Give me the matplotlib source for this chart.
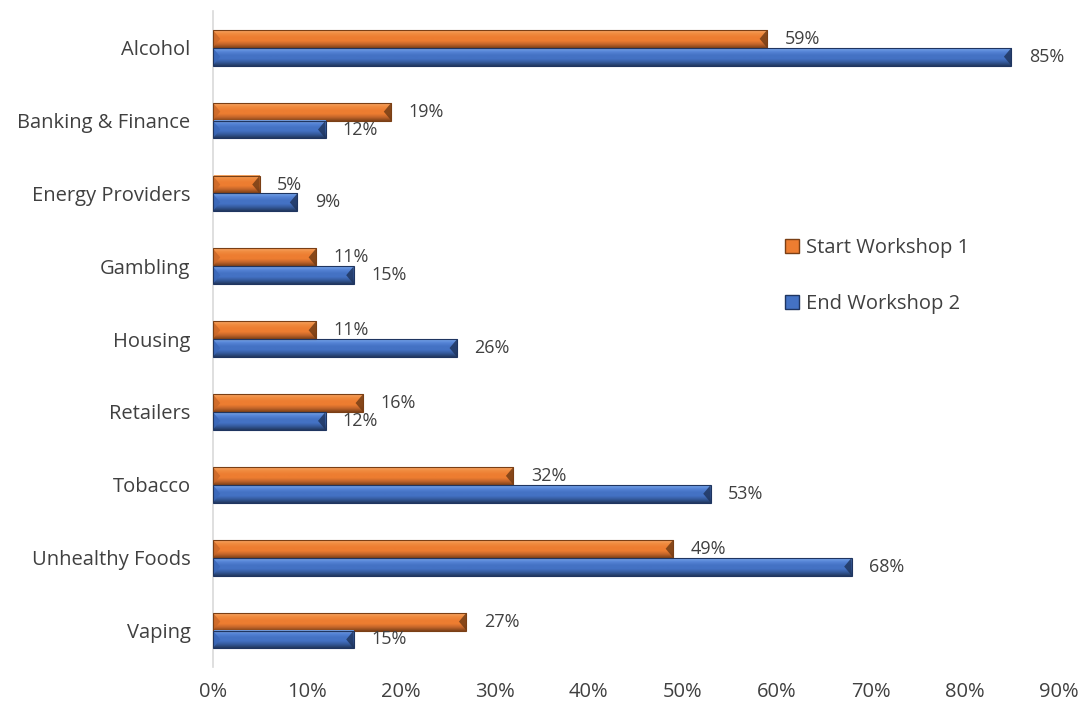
import numpy as np
import matplotlib.pyplot as plt
from matplotlib.colors import LinearSegmentedColormap
from matplotlib.patches import Patch, Polygon

categories = ['Alcohol', 'Banking & Finance', 'Energy Providers', 'Gambling',
              'Housing', 'Retailers', 'Tobacco', 'Unhealthy Foods', 'Vaping']
start_ws1 = [0.59, 0.19, 0.05, 0.11, 0.11, 0.16, 0.32, 0.49, 0.27]
end_ws2 = [0.85, 0.12, 0.09, 0.15, 0.26, 0.12, 0.53, 0.68, 0.15]

plt.rcParams['font.family'] = ['Open Sans', 'DejaVu Sans']
text_col = '#404040'

# bevel look: light top edge, flat middle, dark bottom edge
orange_cmap = LinearSegmentedColormap.from_list(
    'orange', ['#F6A765', '#F08A3E', '#ED7D31', '#ED7D31', '#C0642A', '#7E4118'])
blue_cmap = LinearSegmentedColormap.from_list(
    'blue', ['#7AA6EA', '#5584D6', '#4472C4', '#4472C4', '#34599A', '#22385F'])
grad = np.linspace(0, 1, 64).reshape(-1, 1)

fig = plt.figure(figsize=(10.8, 7.08), dpi=100)
ax = fig.add_axes([0.197, 0.058, 0.783, 0.926])

h = 0.245
cap = 0.008  # width of the bevel cap at each end, in data units
y = np.arange(len(categories))

def bevel_bars(values, offset, cmap, edge, cap_dark, cap_light):
    for yi, v in zip(y, values):
        top = yi + offset - h / 2
        ax.imshow(grad, extent=[0, v, top + h, top], aspect='auto', cmap=cmap,
                  interpolation='bilinear', zorder=2)
        # end caps of the bevel
        ax.add_patch(Polygon([(v, top), (v, top + h), (v - cap, top + h / 2)],
                             closed=True, facecolor=cap_dark, edgecolor='none',
                             alpha=0.8, zorder=2.5))
        ax.add_patch(Polygon([(0, top), (0, top + h), (cap, top + h / 2)],
                             closed=True, facecolor=cap_light, edgecolor='none',
                             alpha=0.8, zorder=2.5))
    ax.barh(y + offset, values, height=h, facecolor='none', edgecolor=edge,
            linewidth=0.8, zorder=3)
    for yi, v in zip(y, values):
        ax.annotate(f'{round(v * 100)}%', (v, yi + offset), xytext=(12.5, 0),
                    textcoords='offset points', va='center', ha='left',
                    fontsize=13, color=text_col)

bevel_bars(start_ws1, -h / 2, orange_cmap, '#7A3F15', '#6E3A14', '#C9682A')
bevel_bars(end_ws2, h / 2, blue_cmap, '#1F3560', '#1E335A', '#3A67B8')

handles = [Patch(facecolor='#ED7D31', edgecolor='#7A3F15', label='Start Workshop 1'),
           Patch(facecolor='#4472C4', edgecolor='#1F3560', label='End Workshop 2')]
leg = ax.legend(handles=handles, loc='center left', bbox_to_anchor=(0.71, 0.61),
                bbox_transform=fig.transFigure, frameon=False, fontsize=14.5,
                handlelength=0.7, handleheight=0.7, handletextpad=0.35,
                labelspacing=1.75)
for t in leg.get_texts():
    t.set_color(text_col)

ax.set_xlim(0, 0.9)
ax.set_ylim(len(categories) - 0.5, -0.5)
ax.set_yticks(y)
ax.set_yticklabels(categories)
ax.set_xticks(np.arange(0, 0.91, 0.1))
ax.set_xticklabels([f'{int(round(t * 100))}%' for t in np.arange(0, 0.91, 0.1)])
ax.tick_params(length=0, labelsize=14.5, colors=text_col)
ax.tick_params(axis='y', pad=16)
ax.tick_params(axis='x', pad=11)
for s in ['top', 'right', 'bottom']:
    ax.spines[s].set_visible(False)
ax.spines['left'].set_color('#D9D9D9')
ax.spines['left'].set_linewidth(1.2)

fig.savefig('out.png', dpi=100)
